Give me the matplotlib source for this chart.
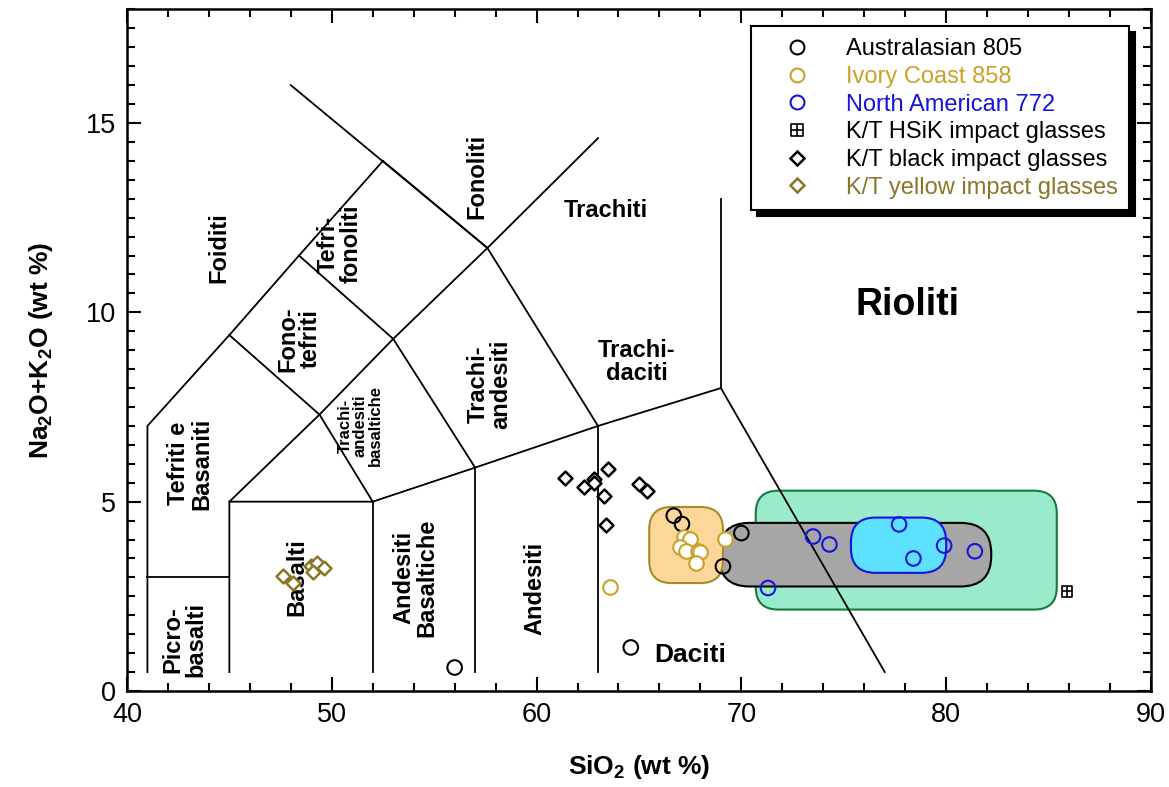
import numpy as np
import matplotlib
matplotlib.use("Agg")
import matplotlib.pyplot as plt
from matplotlib.patches import FancyBboxPatch
from matplotlib.path import Path
from matplotlib.lines import Line2D

plt.rcParams['font.family'] = ['Liberation Sans', 'DejaVu Sans']
plt.rcParams['mathtext.fontset'] = 'custom'
plt.rcParams['mathtext.rm'] = 'Liberation Sans'
plt.rcParams['mathtext.bf'] = 'Liberation Sans:bold'

# --- sample compositions (SiO2, Na2O+K2O) ---
aus_sio2 = [66.7, 67.1, 70.0, 69.1, 56.0, 64.6]
aus_alk = [4.63, 4.41, 4.17, 3.29, 0.62, 1.15]

ivc_sio2 = [67.2, 67.5, 67.0, 67.3, 67.9, 68.0, 67.8, 69.2, 63.6]
ivc_alk = [4.08, 4.02, 3.80, 3.69, 3.71, 3.66, 3.38, 4.02, 2.74]

nam_sio2 = [73.5, 74.3, 77.7, 79.9, 78.4, 81.4, 71.3]
nam_alk = [4.08, 3.87, 4.40, 3.84, 3.50, 3.69, 2.72]

hsik_sio2 = [85.9]
hsik_alk = [2.63]

black_sio2 = [63.5, 62.8, 62.8, 62.3, 63.3, 63.4, 65.0, 65.4, 61.4]
black_alk = [5.86, 5.60, 5.49, 5.39, 5.16, 4.39, 5.47, 5.29, 5.63]

yellow_sio2 = [47.6, 49.0, 49.3, 49.6, 49.1, 48.1]
yellow_alk = [3.03, 3.31, 3.38, 3.25, 3.13, 2.85]

# field extents: (SiO2 min, SiO2 max, alk min, alk max)
field_green = (70.7, 85.4, 2.15, 5.29)
field_grey = (68.9, 82.2, 2.76, 4.44)
field_orange = (65.5, 69.1, 2.85, 4.86)
field_cyan = (75.35, 80.0, 3.12, 4.58)

# TAS classification boundaries
tas_lines = [
    [(41, 0.5), (41, 7), (45, 9.4), (48.4, 11.5), (52.5, 14)],
    [(41, 3), (45, 3)],
    [(45, 0.5), (45, 5), (52, 5), (57, 5.9), (63, 7), (69, 8), (77, 0.5)],
    [(52, 0.5), (52, 5)],
    [(57, 0.5), (57, 5.9)],
    [(63, 0.5), (63, 7)],
    [(45, 5), (49.4, 7.3), (53, 9.3), (57.6, 11.7), (63, 14.6)],
    [(45, 9.4), (49.4, 7.3), (52, 5)],
    [(48.4, 11.5), (53, 9.3), (57, 5.9)],
    [(52.5, 14), (57.6, 11.7), (63, 7)],
    [(48, 16), (57.6, 11.7)],
    [(69, 8), (69, 13)],
]

# field names: (text, SiO2, alk, rotation, size)
field_names = [
    ("Foiditi", 44.5, 11.7, 90, 17),
    ("Fonoliti", 57.1, 13.6, 90, 17),
    ("Tefri-\nfonoliti", 50.4, 11.8, 90, 17),
    ("Trachiti", 63.4, 12.7, 0, 17),
    ("Fono-\ntefriti", 48.4, 9.3, 90, 17),
    ("Trachi-\nandesiti", 57.7, 8.1, 90, 17),
    ("Trachi-\ndaciti", 64.9, 8.7, 0, 17),
    ("Rioliti", 78.1, 10.2, 0, 27),
    ("Tefriti e\nBasaniti", 43.1, 6.0, 90, 17),
    ("Trachi-\nandesiti\nbasaltiche", 51.4, 7.0, 90, 12),
    ("Basalti", 48.3, 3.0, 90, 17),
    ("Picro-\nbasalti", 42.8, 1.35, 90, 17),
    ("Andesiti\nBasaltiche", 54.1, 3.0, 90, 17),
    ("Andesiti", 59.9, 2.7, 90, 17),
    ("Daciti", 67.5, 0.96, 0, 19),
]

gold = '#c9a227'
blue = '#1515d9'
olive = '#8a7628'

fig = plt.figure(figsize=(11.69, 7.87), dpi=100)
ax = fig.add_axes([0.1086, 0.122, 0.876, 0.866])
ax.set_xlim(40, 90)
ax.set_ylim(0, 18)

# pixel scale ratio so rounded corners stay circular
aspect = (1024 / 50) / (681.5 / 18)


def rounded_field(ext, radius, face, edge, z):
    x0, x1, y0, y1 = ext
    box = FancyBboxPatch((x0, y0), x1 - x0, y1 - y0,
                         boxstyle=f"round,pad=0,rounding_size={radius}",
                         mutation_aspect=aspect,
                         facecolor=face, edgecolor=edge, linewidth=1.5, zorder=z)
    ax.add_patch(box)


rounded_field(field_green, 1.1, '#99ebcc', '#1a7a3a', 1)
rounded_field(field_grey, 1.5, '#a6a6a6', 'black', 2)
rounded_field(field_orange, 1.1, '#fdd79a', '#a88a2a', 2)
rounded_field(field_cyan, 1.2, '#5ee0ff', '#1515d9', 3)

for seg in tas_lines:
    xs, ys = zip(*seg)
    ax.plot(xs, ys, color='black', lw=1.3, zorder=2.5, solid_joinstyle='miter')

for txt, x, y, rot, fs in field_names:
    ax.text(x, y, txt, rotation=rot, fontsize=fs, fontweight='bold',
            ha='center', va='center', linespacing=1.0, zorder=4)

# square-with-cross marker for HSiK glasses
hsik_marker = Path(
    [(-1, -1), (1, -1), (1, 1), (-1, 1), (-1, -1), (0, -1), (0, 1), (-1, 0), (1, 0)],
    [Path.MOVETO, Path.LINETO, Path.LINETO, Path.LINETO, Path.CLOSEPOLY,
     Path.MOVETO, Path.LINETO, Path.MOVETO, Path.LINETO])

ax.scatter(aus_sio2, aus_alk, s=110, facecolors='none', edgecolors='black', linewidths=1.5, zorder=5)
ax.scatter(ivc_sio2, ivc_alk, s=110, facecolors='white', edgecolors=gold, linewidths=1.5, zorder=5)
ax.scatter(nam_sio2, nam_alk, s=110, facecolors='none', edgecolors=blue, linewidths=1.5, zorder=5)
ax.scatter(hsik_sio2, hsik_alk, s=60, marker=hsik_marker, facecolors='none', edgecolors='black', linewidths=1.2, zorder=5)
ax.scatter(black_sio2, black_alk, s=50, marker='D', facecolors='white', edgecolors='black', linewidths=1.8, zorder=5)
ax.scatter(yellow_sio2, yellow_alk, s=50, marker='D', facecolors='white', edgecolors=olive, linewidths=1.8, zorder=5)

handles = [
    Line2D([], [], ls='none', marker='o', ms=10, mfc='none', mec='black', mew=1.5),
    Line2D([], [], ls='none', marker='o', ms=10, mfc='none', mec=gold, mew=1.5),
    Line2D([], [], ls='none', marker='o', ms=10, mfc='none', mec=blue, mew=1.5),
    Line2D([], [], ls='none', marker=hsik_marker, ms=8, mfc='none', mec='black', mew=1.2),
    Line2D([], [], ls='none', marker='D', ms=7, mfc='white', mec='black', mew=1.8),
    Line2D([], [], ls='none', marker='D', ms=7, mfc='white', mec=olive, mew=1.8),
]
labels = ["Australasian 805", "Ivory Coast 858", "North American 772",
          "K/T HSiK impact glasses", "K/T black impact glasses", "K/T yellow impact glasses"]
leg = ax.legend(handles, labels, loc='upper right', bbox_to_anchor=(0.979, 0.975),
                borderaxespad=0, fontsize=17,
                labelcolor=['black', gold, blue, 'black', 'black', olive],
                frameon=True, fancybox=False, framealpha=1, edgecolor='black',
                shadow={'color': 'black', 'alpha': 1, 'ox': 4, 'oy': -4},
                handlelength=2.9, handletextpad=0.6, labelspacing=0.24, borderpad=0.5)
leg.get_frame().set_linewidth(1.5)
leg.set_zorder(10)

ax.set_xticks(np.arange(40, 91, 10))
ax.set_xticks(np.arange(40, 91, 2), minor=True)
ax.set_yticks([0, 5, 10, 15])
ax.set_yticks(np.arange(0, 18.01, 0.5), minor=True)
ax.tick_params(which='both', direction='in', top=True, right=True, width=1.5, labelsize=19.5, pad=8)
ax.tick_params(which='major', length=10)
ax.tick_params(which='minor', length=6)
for sp in ax.spines.values():
    sp.set_linewidth(1.8)

ax.set_xlabel(r"SiO$_\mathbf{2}$ (wt %)", fontsize=19, fontweight='bold', labelpad=18)
ax.set_ylabel(r"Na$_\mathbf{2}$O+K$_\mathbf{2}$O (wt %)", fontsize=19, fontweight='bold', labelpad=22)

fig.savefig("out.png", dpi=100)
